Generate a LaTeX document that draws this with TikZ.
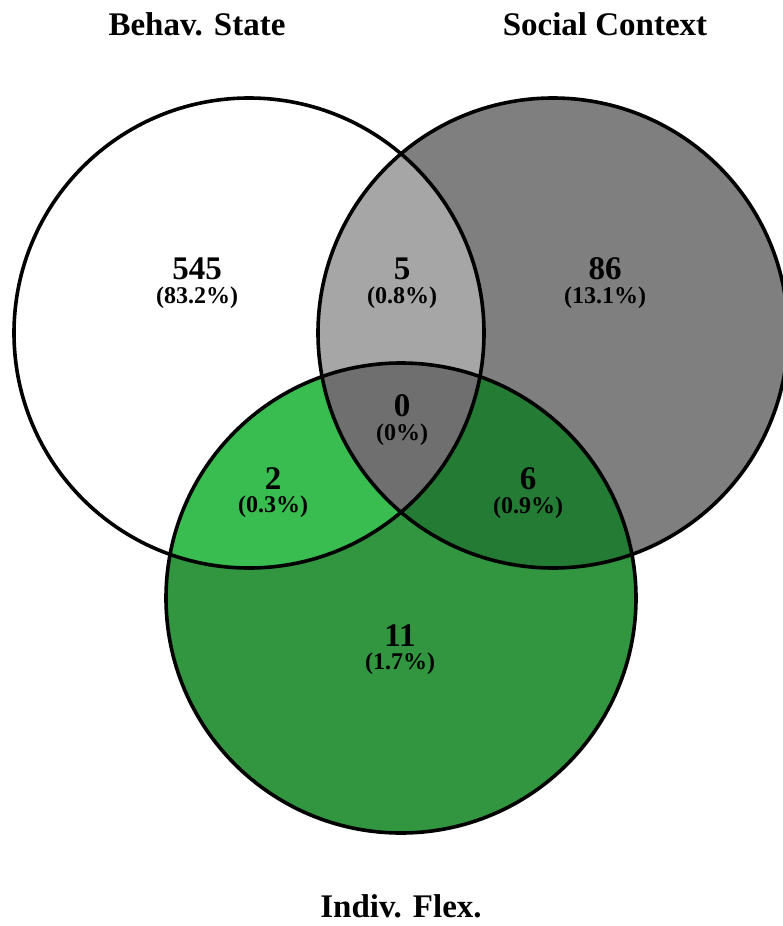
\documentclass[tikz,border=0pt]{standalone}
\usepackage{fontspec}
\setmainfont{Liberation Serif}
\usepackage{tikz}
\usetikzlibrary{positioning}

\definecolor{socgray}{HTML}{7F7F7F}
\definecolor{bsgray}{HTML}{A6A6A6}
\definecolor{allgray}{HTML}{6F6F6F}
\definecolor{flexgreen}{HTML}{31963F}
\definecolor{bfgreen}{HTML}{3ABD50}
\definecolor{sfgreen}{HTML}{237B34}

\tikzset{
  setline/.style={line width=3.6pt},
  setname/.style={font=\fontsize{33}{33}\selectfont\bfseries},
  cnt/.style={font=\fontsize{33}{33}\selectfont\bfseries, inner sep=0pt},
  pct/.style={font=\fontsize{24}{24}\selectfont\bfseries, inner sep=0pt}
}

\begin{document}
\begin{tikzpicture}[x=1pt,y=-1pt]
\useasboundingbox (0,0) rectangle (783,926);
\def\rad{235pt}
\coordinate (behav) at (249,333);
\coordinate (social) at (553,333);
\coordinate (flex) at (401,598);

% single sets
\fill[white] (behav) circle[radius=\rad];
\fill[socgray] (social) circle[radius=\rad];
\fill[flexgreen] (flex) circle[radius=\rad];
% pairwise overlaps
\begin{scope}
  \clip (behav) circle[radius=\rad];
  \fill[bsgray] (social) circle[radius=\rad];
  \fill[bfgreen] (flex) circle[radius=\rad];
\end{scope}
\begin{scope}
  \clip (social) circle[radius=\rad];
  \fill[sfgreen] (flex) circle[radius=\rad];
\end{scope}
% triple overlap
\begin{scope}
  \clip (behav) circle[radius=\rad];
  \clip (social) circle[radius=\rad];
  \fill[allgray] (flex) circle[radius=\rad];
\end{scope}
\foreach \c in {behav,social,flex}
  \draw[setline] (\c) circle[radius=\rad];

% set names
\node[setname] (behavname) at (197,24) {Behav. State};
\node[setname] (socialname) at (605,24) {Social Context};
\node[setname] (flexname) at (401,906) {Indiv. Flex.};

% counts
\node[cnt] (n545) at (197,269) {545};
\node[pct, below=6pt of n545] (p545) {(83.2\%)};
\node[cnt] (n5) at (402,269) {5};
\node[pct, below=6pt of n5] (p5) {(0.8\%)};
\node[cnt] (n86) at (605,269) {86};
\node[pct, below=6pt of n86] (p86) {(13.1\%)};
\node[cnt] (n0) at (402,406) {0};
\node[pct, below=6pt of n0] (p0) {(0\%)};
\node[cnt] (n2) at (273,479) {2};
\node[pct, below=6pt of n2] (p2) {(0.3\%)};
\node[cnt] (n6) at (528,479) {6};
\node[pct, below=6pt of n6] (p6) {(0.9\%)};
\node[cnt] (n11) at (400,636) {11};
\node[pct, below=6pt of n11] (p11) {(1.7\%)};
\end{tikzpicture}
\end{document}
